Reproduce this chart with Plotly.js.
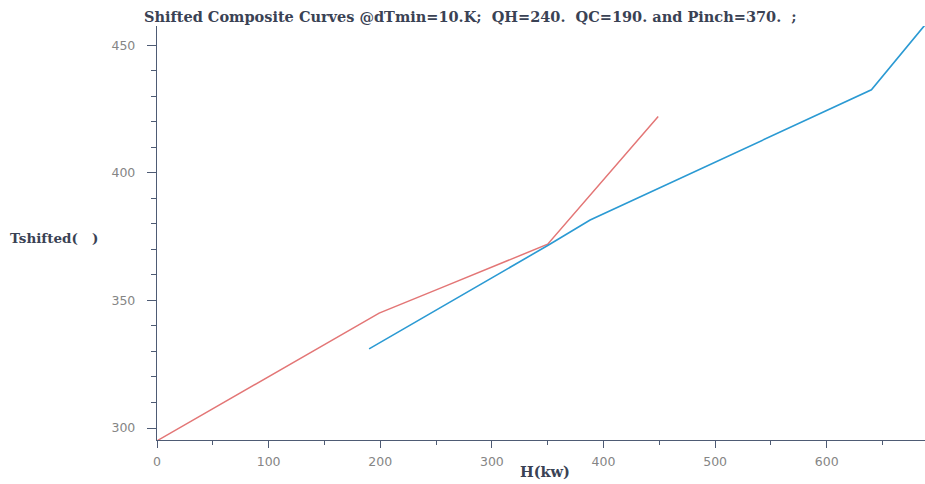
<!DOCTYPE html>
<html>
<head>
<meta charset="utf-8">
<script src="https://cdn.plot.ly/plotly-3.0.1.min.js"></script>
<style>html,body{margin:0;padding:0;background:#fff;}#chart{width:925px;height:484px;}</style>
</head>
<body>
<div id="chart"></div>
<script>
// Hot (red) shifted composite curve
const hotH = [0, 199, 255, 350, 449];
const hotT = [295, 345, 355, 372, 422];
// Cold (blue) shifted composite curve
const coldH = [190, 350, 388, 640, 690];
const coldT = [331, 371.5, 381.5, 432.5, 459];

const titleText = "Shifted Composite Curves @dTmin=10.K;  QH=240.  QC=190. and Pinch=370.  ;";
const xLabel = "H(kw)";
const yLabel = "Tshifted(&nbsp;&nbsp;&nbsp;)";

const traces = [
  {x: hotH, y: hotT, mode: 'lines', line: {color: '#e37676', width: 1.5}, hoverinfo: 'skip'},
  {x: coldH, y: coldT, mode: 'lines', line: {color: '#2b9ad3', width: 1.6}, hoverinfo: 'skip'}
];

const axisColor = '#4e5b74';
const serif = 'DejaVu Serif, serif';
const layout = {
  width: 925, height: 484,
  margin: {l: 157, r: 0, t: 26, b: 44, pad: 0},
  paper_bgcolor: '#fff', plot_bgcolor: '#fff',
  showlegend: false,
  title: {text: titleText, x: 144/925, xanchor: 'left', y: 1 - 17/484, yanchor: 'middle',
          font: {family: serif, size: 14.5, color: '#3a4254', weight: 'bold'}},
  xaxis: {
    range: [0, 688], showgrid: false, zeroline: false,
    showline: true, linecolor: axisColor, linewidth: 1.2,
    ticks: 'outside', ticklen: 7, tickcolor: axisColor, tickwidth: 1,
    dtick: 100, tick0: 0,
    minor: {dtick: 50, ticks: 'outside', ticklen: 4, tickcolor: axisColor},
    tickfont: {family: 'DejaVu Sans, sans-serif', size: 12.5, color: '#858585'},
    ticklabelstandoff: 3,
    fixedrange: true
  },
  yaxis: {
    range: [295.3, 457.5], showgrid: false, zeroline: false,
    showline: true, linecolor: axisColor, linewidth: 1.2,
    ticks: 'outside', ticklen: 9, tickcolor: axisColor, tickwidth: 1,
    dtick: 50, tick0: 300,
    minor: {dtick: 10, ticks: 'outside', ticklen: 5, tickcolor: axisColor},
    tickfont: {family: 'DejaVu Sans, sans-serif', size: 12.5, color: '#858585'},
    ticklabelstandoff: 9,
    fixedrange: true
  },
  annotations: [
    {text: '<b>' + yLabel + '</b>', xref: 'paper', yref: 'paper', x: -149/768, xanchor: 'left',
     y: (484 - 44 - 238) / 414, yanchor: 'middle', showarrow: false,
     font: {family: serif, size: 13.5, color: '#3a4254'}},
    {text: '<b>' + xLabel + '</b>', xref: 'paper', yref: 'paper', x: (545 - 157) / 768, xanchor: 'center',
     y: -(472 - 440) / 414, yanchor: 'middle', showarrow: false,
     font: {family: serif, size: 14.5, color: '#3a4254'}}
  ]
};

Plotly.newPlot('chart', traces, layout, {displayModeBar: false, staticPlot: true});
</script>
</body>
</html>
